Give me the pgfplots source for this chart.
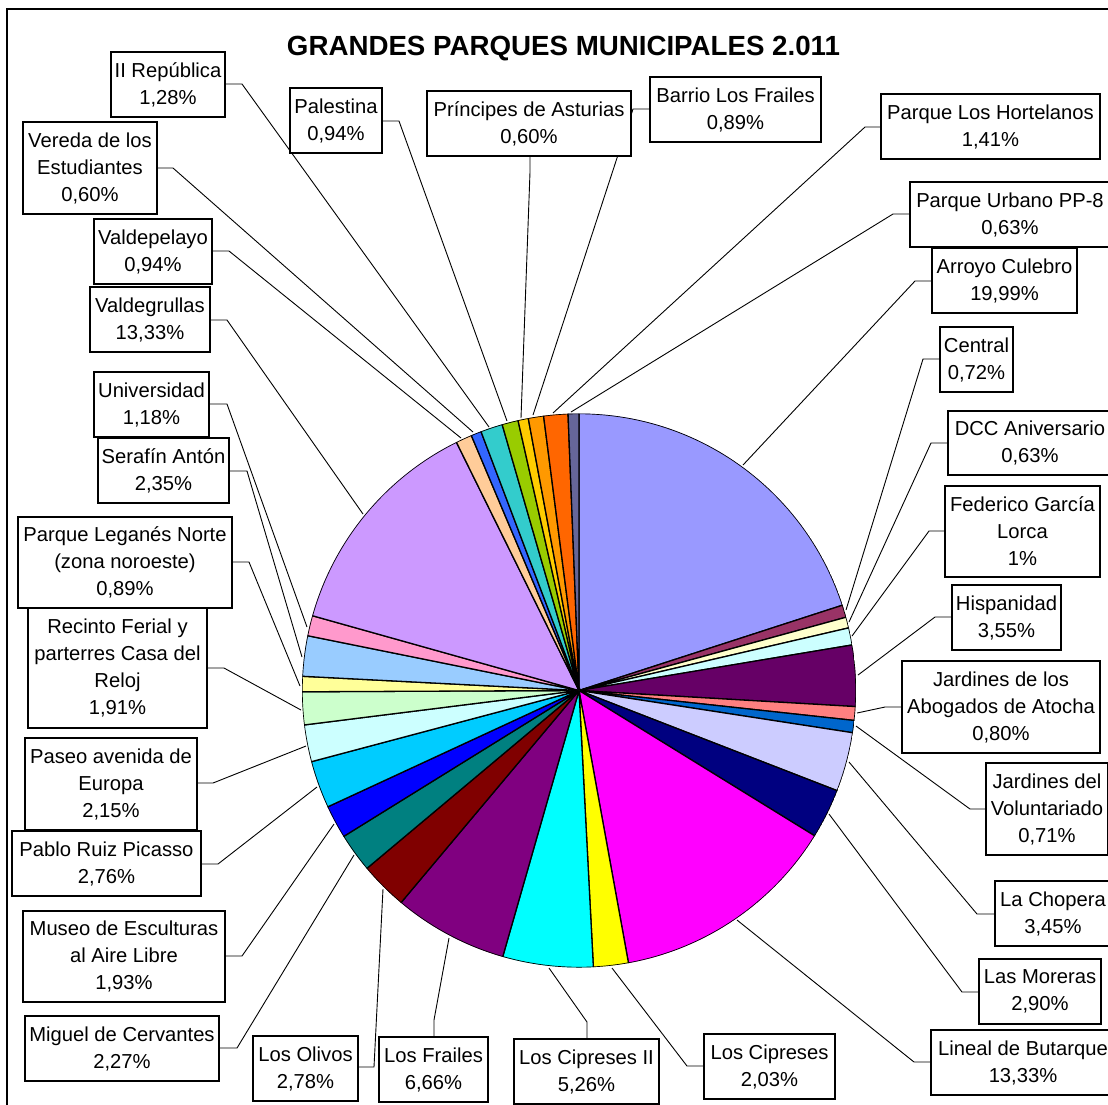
\documentclass[border=0pt]{standalone}
\usepackage{pgfplots}
\pgfplotsset{compat=1.18}
\usepgfplotslibrary{polar}
\usepackage{fontspec}
\setmainfont{Liberation Sans}
\newcommand{\lab}{\fontsize{10.1}{13.5}\selectfont}
\newcommand{\K}{3.6047}
% slice: colour, cumulative start %, cumulative end %
\newcommand{\slice}[3]{\addplot[draw=black, line width=0.65pt, fill=#1, domain=90-\K*#3:90-\K*#2, samples=60] {1} -- (axis cs:0,0) -- cycle;}
% label box: x1 y1 x2 y2 cx cy text
\newcommand{\lbox}[7]{\draw[black, line width=0.6pt, fill=white] (axis cs:#1,#2) rectangle (axis cs:#3,#4); \node[align=center, font=\lab, inner sep=0pt] at (axis cs:#5,#6) {#7};}
% leader line
\newcommand{\lead}[6]{\addplot[black, line width=0.45pt] coordinates {(#1,#2) (#3,#4) (#5,#6)};}
\definecolor{c01}{HTML}{9999FF}
\definecolor{c02}{HTML}{993366}
\definecolor{c03}{HTML}{FFFFCC}
\definecolor{c04}{HTML}{CCFFFF}
\definecolor{c05}{HTML}{660066}
\definecolor{c06}{HTML}{FF8080}
\definecolor{c07}{HTML}{0066CC}
\definecolor{c08}{HTML}{CCCCFF}
\definecolor{c09}{HTML}{000080}
\definecolor{c10}{HTML}{FF00FF}
\definecolor{c11}{HTML}{FFFF00}
\definecolor{c12}{HTML}{00FFFF}
\definecolor{c13}{HTML}{800080}
\definecolor{c14}{HTML}{800000}
\definecolor{c15}{HTML}{008080}
\definecolor{c16}{HTML}{0000FF}
\definecolor{c17}{HTML}{00CCFF}
\definecolor{c18}{HTML}{CCFFFF}
\definecolor{c19}{HTML}{CCFFCC}
\definecolor{c20}{HTML}{FFFF99}
\definecolor{c21}{HTML}{99CCFF}
\definecolor{c22}{HTML}{FF99CC}
\definecolor{c23}{HTML}{CC99FF}
\definecolor{c24}{HTML}{FFCC99}
\definecolor{c25}{HTML}{3366FF}
\definecolor{c26}{HTML}{33CCCC}
\definecolor{c27}{HTML}{99CC00}
\definecolor{c28}{HTML}{FFCC00}
\definecolor{c29}{HTML}{FF9900}
\definecolor{c30}{HTML}{FF6600}
\definecolor{c31}{HTML}{666699}
\begin{document}
\begin{tikzpicture}
\path[use as bounding box] (0pt,0pt) rectangle (554pt,-552pt);
\clip (0pt,0pt) rectangle (554pt,-552pt);
\fill[white] (0pt,0pt) rectangle (554pt,-552pt);
\begin{polaraxis}[at={(289.5pt,-345.25pt)}, anchor=center, scale only axis,
  width=277pt, height=277pt, xmin=0, xmax=360, ymin=0, ymax=1, hide axis]
\slice{c01}{0}{19.99}
\slice{c02}{19.99}{20.71}
\slice{c03}{20.71}{21.34}
\slice{c04}{21.34}{22.34}
\slice{c05}{22.34}{25.89}
\slice{c06}{25.89}{26.69}
\slice{c07}{26.69}{27.40}
\slice{c08}{27.40}{30.85}
\slice{c09}{30.85}{33.75}
\slice{c10}{33.75}{47.08}
\slice{c11}{47.08}{49.11}
\slice{c12}{49.11}{54.37}
\slice{c13}{54.37}{61.03}
\slice{c14}{61.03}{63.81}
\slice{c15}{63.81}{66.08}
\slice{c16}{66.08}{68.01}
\slice{c17}{68.01}{70.77}
\slice{c18}{70.77}{72.92}
\slice{c19}{72.92}{74.83}
\slice{c20}{74.83}{75.72}
\slice{c21}{75.72}{78.07}
\slice{c22}{78.07}{79.25}
\slice{c23}{79.25}{92.58}
\slice{c24}{92.58}{93.52}
\slice{c25}{93.52}{94.12}
\slice{c26}{94.12}{95.40}
\slice{c27}{95.40}{96.34}
\slice{c28}{96.34}{96.94}
\slice{c29}{96.94}{97.83}
\slice{c30}{97.83}{99.24}
\slice{c31}{99.24}{99.87}
\end{polaraxis}
\begin{axis}[at={(0pt,0pt)}, anchor=north west, scale only axis,
  width=554pt, height=552pt, xmin=0, xmax=1108, ymin=0, ymax=1104,
  y dir=reverse, hide axis, clip=false]
\draw[black, line width=0.8pt] (axis cs:7,1115) -- (axis cs:7,9) -- (axis cs:1120,9);
\node[anchor=base, font=\fontsize{13.85}{16}\selectfont\bfseries] at (axis cs:563.5,55) {GRANDES PARQUES MUNICIPALES 2.011};
% leader lines
\lead{932}{281}{915}{281}{743}{465}
\lead{940}{359}{923}{359}{846}{610}
\lead{948}{443}{931}{443}{849}{622}
\lead{945}{531}{929}{531}{852}{636}
\lead{952}{617}{935}{617}{858}{675}
\lead{902}{707}{885}{707}{857}{713}
\lead{986}{809}{970}{809}{856}{726}
\lead{995}{914}{977}{914}{849}{762}
\lead{979}{992}{962}{992}{829}{814}
\lead{931}{1062}{914}{1062}{737}{920}
\lead{704}{1066}{687}{1066}{612}{968}
\lead{587}{1039}{587}{1022}{549}{968}
\lead{434}{1037}{434}{1020}{449}{938}
\lead{358}{1067}{374}{1067}{383}{889}
\lead{219}{1048}{237}{1048}{354}{855}
\lead{225}{956}{242}{956}{334}{824}
\lead{201}{864}{218}{864}{317}{787}
\lead{197}{783}{213}{783}{306}{746}
\lead{207}{668}{224}{668}{301}{710}
\lead{232}{562}{249}{562}{300}{686}
\lead{229}{471}{247}{471}{302}{657}
\lead{209}{404}{227}{404}{307}{627}
\lead{210}{320}{227}{320}{363}{514}
\lead{212}{251}{229}{251}{461}{438}
\lead{157}{168}{173}{168}{473}{432}
\lead{225}{84}{242}{84}{489}{427}
\lead{382}{121}{399}{121}{507}{421}
\lead{530}{156}{530}{172}{521}{418}
\lead{650}{109}{633}{109}{533}{415}
\lead{881}{127}{865}{127}{553}{413}
\lead{910}{214}{893}{214}{571}{412}
% label boxes
\lbox{932}{248}{1077}{313}{1004.5}{280.5}{Arroyo Culebro\\19,99\%}
\lbox{940}{327}{1013}{392}{976.5}{359.5}{Central\\0,72\%}
\lbox{948}{411}{1112}{475}{1030}{443}{DCC Aniversario\\0,63\%}
\lbox{945}{486}{1100}{577}{1022.5}{531.5}{Federico García\\Lorca\\1\%}
\lbox{952}{585}{1061}{650}{1006.5}{617.5}{Hispanidad\\3,55\%}
\lbox{902}{661}{1100}{753}{1001}{707}{Jardines de los\\Abogados de Atocha\\0,80\%}
\lbox{986}{763}{1108}{855}{1047}{809}{Jardines del\\Voluntariado\\0,71\%}
\lbox{995}{881}{1111}{946}{1053}{913.5}{La Chopera\\3,45\%}
\lbox{979}{959}{1101}{1024}{1040}{991.5}{Las Moreras\\2,90\%}
\lbox{931}{1030}{1115}{1095}{1023}{1062.5}{Lineal de Butarque\\13,33\%}
\lbox{704}{1034}{835}{1099}{769.5}{1066.5}{Los Cipreses\\2,03\%}
\lbox{514}{1039}{659}{1104}{586.5}{1071.5}{Los Cipreses II\\5,26\%}
\lbox{379}{1037}{488}{1102}{433.5}{1069.5}{Los Frailes\\6,66\%}
\lbox{253}{1036}{358}{1101}{305.5}{1068.5}{Los Olivos\\2,78\%}
\lbox{25}{1016}{219}{1081}{122}{1048.5}{Miguel de Cervantes\\2,27\%}
\lbox{23}{911}{225}{1002}{124}{956.5}{Museo de Esculturas\\al Aire Libre\\1,93\%}
\lbox{12}{831}{201}{896}{106.5}{863.5}{Pablo Ruiz Picasso\\2,76\%}
\lbox{25}{738}{197}{830}{111}{784}{Paseo avenida de\\Europa\\2,15\%}
\lbox{28}{608}{207}{728}{117.5}{668}{Recinto Ferial y\\parterres Casa del\\Reloj\\1,91\%}
\lbox{18}{517}{232}{608}{125}{562.5}{Parque Leganés Norte\\(zona noroeste)\\0,89\%}
\lbox{98}{438}{229}{503}{163.5}{470.5}{Serafín Antón\\2,35\%}
\lbox{94}{372}{209}{437}{151.5}{404.5}{Universidad\\1,18\%}
\lbox{90}{287}{210}{352}{150}{319.5}{Valdegrullas\\13,33\%}
\lbox{94}{219}{212}{284}{153}{251.5}{Valdepelayo\\0,94\%}
\lbox{23}{122}{157}{214}{90}{168}{Vereda de los\\Estudiantes\\0,60\%}
\lbox{111}{52}{225}{117}{168}{84.5}{II República\\1,28\%}
\lbox{290}{88}{382}{153}{336}{120.5}{Palestina\\0,94\%}
\lbox{427}{91}{631}{156}{529}{123.5}{Príncipes de Asturias\\0,60\%}
\lbox{650}{77}{821}{142}{735.5}{109.5}{Barrio Los Frailes\\0,89\%}
\lbox{881}{94}{1100}{159}{990.5}{126.5}{Parque Los Hortelanos\\1,41\%}
\lbox{910}{182}{1110}{247}{1010}{214.5}{Parque Urbano PP-8\\0,63\%}
\end{axis}
\end{tikzpicture}
\end{document}
